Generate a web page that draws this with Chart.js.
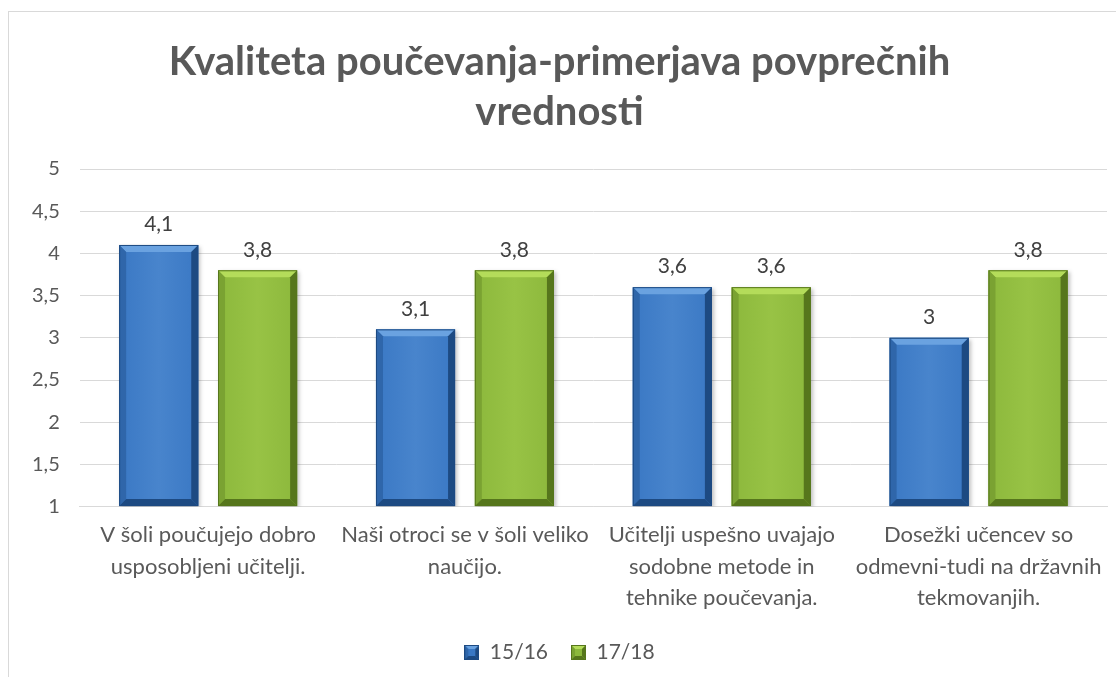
<!DOCTYPE html>
<html>
<head>
<meta charset="utf-8">
<script src="https://cdn.jsdelivr.net/npm/chart.js@4.4.0/dist/chart.umd.min.js"></script>
<style>
 html,body{margin:0;padding:0;background:#fff;}
 #frame{position:absolute;left:8px;top:11px;width:1120px;height:680px;border-left:1px solid #d9d9d9;border-top:1px solid #d9d9d9;}
 #wrap{position:absolute;left:0;top:0;width:1114px;height:666px;}
</style>
</head>
<body>
<div id="frame"><div id="wrap"><canvas id="qChart"></canvas></div></div>
<script>
const categories=[
 ['V šoli poučujejo dobro','usposobljeni učitelji.'],
 ['Naši otroci se v šoli veliko','naučijo.'],
 ['Učitelji uspešno uvajajo','sodobne metode in','tehnike poučevanja.'],
 ['Dosežki učencev so','odmevni-tudi na državnih','tekmovanjih.']
];
const seriesNames=['15/16','17/18'];
const values1516=[4.1,3.1,3.6,3.0];
const values1718=[3.8,3.8,3.6,3.8];
const titleLines=['Kvaliteta poučevanja-primerjava povprečnih','vrednosti'];

const palette=[
 {main:'#3a78c4',light:'#6aa2e0',dark:'#1d4a82',side:'#2f66aa'},
 {main:'#8cb83c',light:'#b4dc5a',dark:'#56761c',side:'#7aa232'}
];
const FONT='Lato, "Open Sans", sans-serif';
const fmt=v=>String(v).replace('.',',');

function bevel(ctx,l,t,r,b,c,s){
 ctx.fillStyle=c.light; // top
 ctx.beginPath();ctx.moveTo(l,t);ctx.lineTo(r,t);ctx.lineTo(r-s,t+s);ctx.lineTo(l+s,t+s);ctx.closePath();ctx.fill();
 ctx.fillStyle=c.side; // left
 ctx.beginPath();ctx.moveTo(l,t);ctx.lineTo(l+s,t+s);ctx.lineTo(l+s,b-s);ctx.lineTo(l,b);ctx.closePath();ctx.fill();
 ctx.fillStyle=c.dark; // right + bottom
 ctx.beginPath();ctx.moveTo(r,t);ctx.lineTo(r,b);ctx.lineTo(r-s,b-s);ctx.lineTo(r-s,t+s);ctx.closePath();ctx.fill();
 ctx.beginPath();ctx.moveTo(l,b);ctx.lineTo(l+s,b-s);ctx.lineTo(r-s,b-s);ctx.lineTo(r,b);ctx.closePath();ctx.fill();
 ctx.strokeStyle=c.dark;ctx.lineWidth=1;
 ctx.strokeRect(l+0.5,t+0.5,r-l-1,b-t-1);
}

function legendIcon(c){
 const cv=document.createElement('canvas');cv.width=15;cv.height=15;
 const x=cv.getContext('2d');
 x.fillStyle=c.main;x.fillRect(0,0,15,15);
 bevel(x,0,0,15,15,c,4);
 return cv;
}

const bevelPlugin={
 id:'bevel',
 beforeDatasetDraw(chart){
  const ctx=chart.ctx;ctx.save();
  ctx.shadowColor='rgba(0,0,0,0.25)';ctx.shadowBlur=4;ctx.shadowOffsetX=2;ctx.shadowOffsetY=2;
 },
 afterDatasetDraw(chart,args){
  const ctx=chart.ctx;ctx.restore();
  const c=palette[args.index];
  args.meta.data.forEach(bar=>{
   const p=bar.getProps(['x','y','base','width'],true);
   const l=p.x-p.width/2,r=p.x+p.width/2;
   ctx.save();
   const g=ctx.createLinearGradient(l,0,r,0);
   g.addColorStop(0,c.main);g.addColorStop(0.5,c.light);g.addColorStop(1,c.main);
   ctx.globalAlpha=0.3;ctx.fillStyle=g;ctx.fillRect(l,p.y,p.width,p.base-p.y);
   ctx.globalAlpha=1;
   bevel(ctx,l,p.y,r,p.base,c,7);
   ctx.restore();
  });
 },
 afterDatasetsDraw(chart){
  const ctx=chart.ctx;
  ctx.save();
  ctx.font='21px '+FONT;ctx.fillStyle='#404040';ctx.textAlign='center';ctx.textBaseline='bottom';
  chart.data.datasets.forEach((ds,i)=>{
   chart.getDatasetMeta(i).data.forEach((bar,j)=>{
    ctx.fillText(fmt(ds.data[j]),bar.x,bar.y-10);
   });
  });
  ctx.restore();
 }
};

new Chart(document.getElementById('qChart'),{
 type:'bar',
 data:{labels:categories,datasets:[
  {label:seriesNames[0],data:values1516,base:1,backgroundColor:palette[0].main,borderWidth:0,categoryPercentage:0.77,barPercentage:0.8},
  {label:seriesNames[1],data:values1718,base:1,backgroundColor:palette[1].main,borderWidth:0,categoryPercentage:0.77,barPercentage:0.8}
 ]},
 options:{
  responsive:true,maintainAspectRatio:false,animation:false,
  layout:{padding:{left:3,right:16,top:8,bottom:5}},
  plugins:{
   title:{display:true,text:titleLines,color:'#595959',font:{family:FONT,size:40,weight:'bold',lineHeight:1.25},padding:{top:17,bottom:32}},
   legend:{position:'bottom',labels:{color:'#595959',font:{family:FONT,size:21},usePointStyle:true,boxWidth:15,boxHeight:15,
    generateLabels(chart){
     return chart.data.datasets.map((ds,i)=>({text:ds.label,pointStyle:legendIcon(palette[i]),datasetIndex:i,fontColor:'#595959',lineWidth:0,strokeStyle:'transparent',fillStyle:palette[i].main}));
    },padding:23}},
   tooltip:{enabled:false}
  },
  scales:{
   x:{grid:{display:false},border:{color:'#d9d9d9'},ticks:{color:'#595959',font:{family:FONT,size:22,lineHeight:1.43},maxRotation:0,autoSkip:false,padding:5}},
   y:{min:1,max:5,grid:{color:'#d9d9d9',drawTicks:false},border:{display:false},
    ticks:{stepSize:0.5,color:'#595959',font:{family:FONT,size:20},padding:20,callback:v=>fmt(v)}}
  }
 },
 plugins:[bevelPlugin]
});
</script>
</body>
</html>
